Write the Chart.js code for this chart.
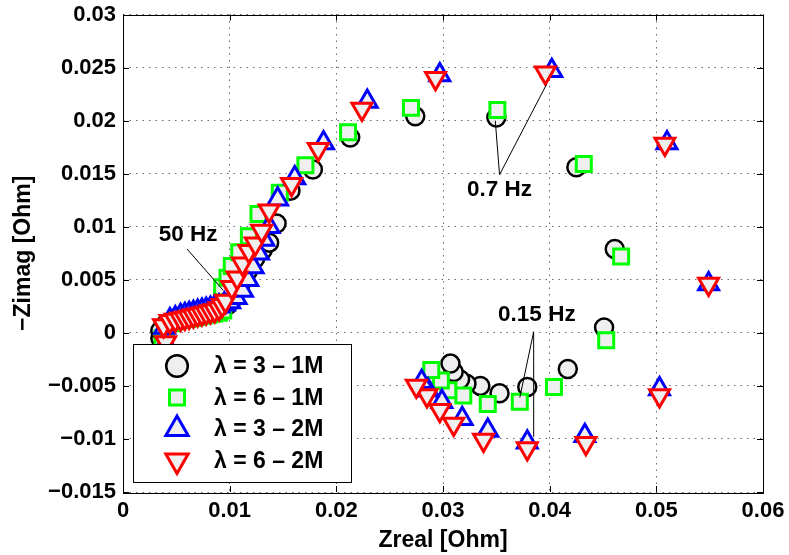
<!DOCTYPE html>
<html><head><meta charset="utf-8">
<script src="https://cdn.jsdelivr.net/npm/chart.js@4.4.1/dist/chart.umd.min.js"></script>
<style>html,body{margin:0;padding:0;background:#fff}</style>
</head><body>
<canvas id="c" width="789" height="555"></canvas>
<script>
// ---- data ----
const seriesLabels = ['λ = 3 – 1M', 'λ = 6 – 1M', 'λ = 3 – 2M', 'λ = 6 – 2M'];

const lam3_1M_x = [0.0035,0.0035,0.0040,0.0045,0.0050,0.0056,0.0062,0.0068,0.0074,0.0080,0.0086,0.0092,0.0098,0.0104,0.0110,0.0117,0.0124,0.0131,0.0137,0.0144,0.0157,0.0178,0.0213,0.0274,0.0350,0.0425,0.0461,0.0451,0.0417,0.0379,0.0353,0.0335,0.0322,0.0316,0.0310,0.0307];
const lam3_1M_y = [-0.0005,0.0002,0.0008,0.0011,0.0013,0.0014,0.0015,0.0016,0.0017,0.0019,0.0020,0.0022,0.0026,0.0033,0.0045,0.0058,0.0070,0.0078,0.0085,0.0103,0.0134,0.0154,0.0184,0.0204,0.0203,0.0156,0.0079,0.0005,-0.0034,-0.0051,-0.0057,-0.0050,-0.0048,-0.0044,-0.0037,-0.0029];

const lam6_1M_x = [0.0037,0.0040,0.0045,0.0050,0.0055,0.0060,0.0065,0.0070,0.0075,0.0080,0.0085,0.0090,0.0094,0.0093,0.0093,0.0098,0.0102,0.0109,0.0118,0.0127,0.0147,0.0171,0.0211,0.0270,0.0351,0.0432,0.0467,0.0453,0.0404,0.0372,0.0342,0.0319,0.0305,0.0298,0.0289];
const lam6_1M_y = [-0.0005,0.0005,0.0009,0.0011,0.0012,0.0013,0.0014,0.0015,0.0016,0.0017,0.0018,0.0019,0.0021,0.0032,0.0043,0.0052,0.0063,0.0076,0.0091,0.0112,0.0132,0.0158,0.0189,0.0212,0.0210,0.0159,0.0072,-0.0007,-0.0051,-0.0065,-0.0067,-0.0059,-0.0054,-0.0045,-0.0035];

const lam3_2M_x = [0.0040,0.0039,0.0044,0.0049,0.0054,0.0058,0.0062,0.0066,0.0070,0.0074,0.0078,0.0082,0.0086,0.0090,0.0095,0.0100,0.0106,0.0112,0.0117,0.0122,0.0127,0.0132,0.0137,0.0145,0.0161,0.0188,0.0229,0.0297,0.0402,0.0510,0.0549,0.0503,0.0433,0.0379,0.0342,0.0318,0.0299,0.0286,0.0280];
const lam3_2M_y = [-0.0010,0.0005,0.0012,0.0014,0.0016,0.0017,0.0018,0.0019,0.0020,0.0021,0.0022,0.0023,0.0024,0.0025,0.0027,0.0029,0.0033,0.0040,0.0050,0.0062,0.0075,0.0088,0.0100,0.0126,0.0146,0.0179,0.0218,0.0243,0.0247,0.0179,0.0046,-0.0053,-0.0097,-0.0103,-0.0092,-0.0081,-0.0065,-0.0054,-0.0046];

const lam6_2M_x = [0.0040,0.0038,0.0044,0.0049,0.0054,0.0058,0.0062,0.0066,0.0070,0.0074,0.0078,0.0082,0.0086,0.0090,0.0093,0.0096,0.0102,0.0107,0.0112,0.0118,0.0124,0.0130,0.0137,0.0158,0.0183,0.0224,0.0293,0.0396,0.0508,0.0549,0.0503,0.0434,0.0379,0.0338,0.0310,0.0297,0.0285,0.0275];
const lam6_2M_y = [-0.0009,0.0007,0.0011,0.0012,0.0013,0.0014,0.0015,0.0016,0.0017,0.0018,0.0019,0.0020,0.0021,0.0023,0.0026,0.0030,0.0043,0.0052,0.0065,0.0077,0.0084,0.0096,0.0115,0.0140,0.0173,0.0211,0.0240,0.0245,0.0178,0.0046,-0.0059,-0.0104,-0.0109,-0.0101,-0.0086,-0.0073,-0.0059,-0.0050];

const xTickValues = [0, 0.01, 0.02, 0.03, 0.04, 0.05, 0.06];
const yTickValues = [-0.015, -0.01, -0.005, 0, 0.005, 0.01, 0.015, 0.02, 0.025, 0.03];

const annotLabels = ['50 Hz', '0.7 Hz', '0.15 Hz'];
const annotTextPos = [[0.0061, 0.0092], [0.0353, 0.0135], [0.0388, 0.0017]];
const annotLines = [
  [[0.0060, 0.0079], [0.0094, 0.0040]],
  [[0.0349, 0.0200], [0.0353, 0.0149], [0.0397, 0.0234]],
  [[0.0372, -0.0061], [0.0385, 0.0001], [0.0385, -0.0098]]
];

// ---- chart ----
const FONT = '"Liberation Sans", Arial, Helvetica, sans-serif';
Chart.defaults.font.family = FONT;
Chart.defaults.color = '#000';

function pts(xs, ys) { return xs.map((x, i) => ({x: x, y: ys[i]})); }
const FILL = '#efefef';

const datasets = [
  {label: seriesLabels[0], data: pts(lam3_1M_x, lam3_1M_y), pointStyle: 'circle', pointRadius: 9, pointBorderWidth: 2.5, pointBorderColor: '#000000', pointBackgroundColor: FILL, pointRotation: 0, legendScale: 1.2, order: 3},
  {label: seriesLabels[1], data: pts(lam6_1M_x, lam6_1M_y), pointStyle: 'rect', pointRadius: 10.6, pointBorderWidth: 3, pointBorderColor: '#00ff00', pointBackgroundColor: FILL, pointRotation: 0, legendScale: 1.0, order: 2},
  {label: seriesLabels[2], data: pts(lam3_2M_x, lam3_2M_y), pointStyle: 'triangle', pointRadius: 11.5, pointBorderWidth: 3, pointBorderColor: '#0000ff', pointBackgroundColor: FILL, pointRotation: 0, legendScale: 1.12, order: 1},
  {label: seriesLabels[3], data: pts(lam6_2M_x, lam6_2M_y), pointStyle: 'triangle', pointRadius: 11.5, pointBorderWidth: 3, pointBorderColor: '#ff0000', pointBackgroundColor: FILL, pointRotation: 180, legendScale: 1.12, order: 0}
];
datasets.forEach(d => { d.showLine = false; d.pointHoverRadius = d.pointRadius; });

function fmt(v) {
  const r = Math.round(v * 1000) / 1000;
  if (Math.abs(r) < 1e-12) return '0';
  return String(r).replace('-', '\u2212');
}

const overlay = {
  id: 'overlay',
  afterDraw(chart) {
    const ctx = chart.ctx, a = chart.chartArea;
    const xs = chart.scales.x, ys = chart.scales.y;
    ctx.save();
    // annotations
    ctx.strokeStyle = '#000'; ctx.lineWidth = 1;
    annotLines.forEach(line => {
      ctx.beginPath();
      line.forEach((p, i) => {
        const px = xs.getPixelForValue(p[0]), py = ys.getPixelForValue(p[1]);
        if (i === 0) ctx.moveTo(px, py); else ctx.lineTo(px, py);
      });
      ctx.stroke();
    });
    ctx.fillStyle = '#000';
    ctx.font = 'bold 22.5px ' + FONT;
    ctx.textAlign = 'center'; ctx.textBaseline = 'middle';
    annotLabels.forEach((t, i) => {
      ctx.fillText(t, xs.getPixelForValue(annotTextPos[i][0]), ys.getPixelForValue(annotTextPos[i][1]));
    });
    // box
    ctx.lineWidth = 1; ctx.strokeStyle = '#000';
    ctx.strokeRect(Math.round(a.left) + 0.5, Math.round(a.top) + 0.5, Math.round(a.right - a.left), Math.round(a.bottom - a.top));
    // inward ticks
    const TL = 6;
    ctx.beginPath();
    xs.ticks.forEach(t => {
      const px = Math.round(xs.getPixelForValue(t.value)) + 0.5;
      ctx.moveTo(px, a.bottom); ctx.lineTo(px, a.bottom - TL);
      ctx.moveTo(px, a.top); ctx.lineTo(px, a.top + TL);
    });
    ys.ticks.forEach(t => {
      const py = Math.round(ys.getPixelForValue(t.value)) + 0.5;
      ctx.moveTo(a.left, py); ctx.lineTo(a.left + TL, py);
      ctx.moveTo(a.right, py); ctx.lineTo(a.right - TL, py);
    });
    ctx.stroke();
    // legend
    const L = Math.round(a.left) + 10, B = Math.round(a.bottom) - 10, W = 218, H = 138, T = B - H;
    ctx.fillStyle = '#fff'; ctx.fillRect(L, T, W, H);
    ctx.strokeStyle = '#000'; ctx.lineWidth = 1; ctx.strokeRect(L + 0.5, T + 0.5, W, H);
    chart.data.datasets.forEach((ds, i) => {
      const cy = T + 22 + i * 31.5;
      ctx.fillStyle = ds.pointBackgroundColor; ctx.strokeStyle = ds.pointBorderColor; ctx.lineWidth = ds.pointBorderWidth;
      Chart.helpers.drawPoint(ctx, {pointStyle: ds.pointStyle, rotation: ds.pointRotation, radius: ds.pointRadius * ds.legendScale, borderWidth: ds.pointBorderWidth}, L + 44, cy);
      ctx.fillStyle = '#000'; ctx.font = 'bold 23px ' + FONT;
      ctx.textAlign = 'left'; ctx.textBaseline = 'middle';
      ctx.fillText(ds.label, L + 81, cy + 1);
    });
    ctx.restore();
  }
};

new Chart(document.getElementById('c'), {
  type: 'scatter',
  data: {datasets: datasets},
  plugins: [overlay],
  options: {
    responsive: false,
    animation: false,
    events: [],
    layout: {padding: {left: 0, top: 13, right: 26, bottom: 0}},
    plugins: {legend: {display: false}, tooltip: {enabled: false}},
    scales: {
      x: {
        type: 'linear', min: 0, max: 0.06,
        afterBuildTicks: s => { s.ticks = xTickValues.map(v => ({value: v})); },
        afterFit: s => { s.height = 63; s.paddingLeft = 0; s.paddingRight = 0; },
        ticks: {callback: v => fmt(v), font: {size: 22, weight: 'bold'}, padding: 6, maxRotation: 0, autoSkip: false},
        grid: {color: '#6a6a6a', lineWidth: 1, drawTicks: false},
        border: {display: false, dash: [1.5, 5]},
        title: {display: true, text: 'Zreal [Ohm]', font: {size: 23, weight: 'bold'}, padding: {top: 0, bottom: 1}}
      },
      y: {
        type: 'linear', min: -0.015, max: 0.03,
        afterBuildTicks: s => { s.ticks = yTickValues.map(v => ({value: v})); },
        afterFit: s => { s.width = 123; s.paddingTop = 0; s.paddingBottom = 0; },
        ticks: {callback: v => fmt(v), font: {size: 22, weight: 'bold'}, padding: 7, autoSkip: false},
        grid: {color: '#6a6a6a', lineWidth: 1, drawTicks: false},
        border: {display: false, dash: [1.5, 5]},
        title: {display: true, text: '\u2212Zimag [Ohm]', font: {size: 23, weight: 'bold'}, padding: {top: 10, bottom: 0}}
      }
    }
  }
});
</script>
</body></html>
